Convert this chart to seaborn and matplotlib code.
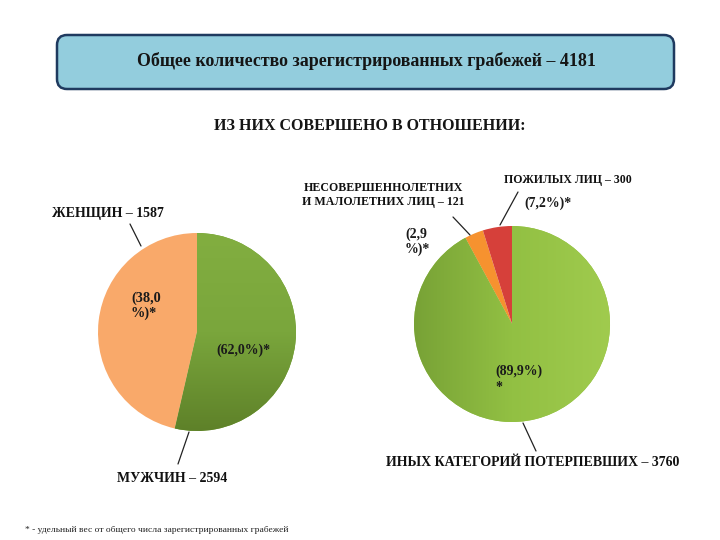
import numpy as np
import matplotlib
matplotlib.use("Agg")
import matplotlib.pyplot as plt
from matplotlib.patches import FancyBboxPatch
from matplotlib.colors import LinearSegmentedColormap
import seaborn as sns

# ---------------- data ----------------
title_text = "Общее количество зарегистрированных грабежей – 4181"
subtitle_text = "ИЗ НИХ СОВЕРШЕНО В ОТНОШЕНИИ:"

# left pie: men / women (slice shares as drawn in the picture)
left_labels = ["МУЖЧИН – 2594", "ЖЕНЩИН – 1587"]
left_pct = ["(62,0%)*", "(38,0\n%)*"]
left_shares = [53.6, 46.4]
left_colors = ["#74A236", "#F9A96A"]

# right pie: other / minors / elderly
right_labels = ["ИНЫХ КАТЕГОРИЙ ПОТЕРПЕВШИХ – 3760",
                "НЕСОВЕРШЕННОЛЕТНИХ\nИ МАЛОЛЕТНИХ ЛИЦ – 121",
                "ПОЖИЛЫХ ЛИЦ – 300"]
right_pct = ["(89,9%)\n*", "(2,9\n%)*", "(7,2%)*"]
right_shares = [92.1, 3.1, 4.8]
right_colors = ["#96C445", "#F6922F", "#D6403A"]

footnote = "* - удельный вес от общего числа зарегистрированных грабежей"

# ---------------- figure ----------------
sns.set_theme(style="white")
plt.rcParams['font.family'] = ['Liberation Serif', 'DejaVu Serif']

fig = plt.figure(figsize=(7.2, 5.4), dpi=100)
ax = fig.add_axes([0, 0, 1, 1])
W, H = 720, 540


def Y(p):
    return H - p


# title box
box = FancyBboxPatch((57, Y(89)), 617, 54,
                     boxstyle="round,pad=0,rounding_size=10",
                     facecolor="#93CDDD", edgecolor="#1F3A5F", linewidth=1.8,
                     zorder=2)
ax.add_patch(box)
ax.text(366, Y(61), title_text, ha="center", va="center",
        fontsize=12.9, fontweight="bold", color="#151515", zorder=3)
ax.text(370, Y(126), subtitle_text, ha="center", va="center",
        fontsize=11.5, fontweight="bold", color="#151515")

# ---------------- left pie ----------------
lc = (197, Y(332))
lr = 99
wl, _ = ax.pie(left_shares, colors=left_colors, startangle=90,
               counterclock=False, center=lc, radius=lr, frame=True,
               wedgeprops=dict(linewidth=0))
# gradient on the green wedge (lighter top, darker bottom)
cmap_l = LinearSegmentedColormap.from_list("lg", ["#5E8129", "#7AA63C", "#82AE40"])
grad = np.linspace(0, 1, 256).reshape(-1, 1)
im = ax.imshow(grad, cmap=cmap_l, origin="lower", aspect="auto",
               extent=(lc[0] - lr, lc[0] + lr, lc[1] - lr, lc[1] + lr), zorder=1.5)
im.set_clip_path(wl[0])

ax.text(243, Y(350), left_pct[0], ha="center", va="center",
        fontsize=10, fontweight="bold", color="#1a1a1a", zorder=4)
ax.text(131, Y(306), left_pct[1], ha="left", va="center",
        fontsize=10.3, fontweight="bold", color="#1a1a1a", linespacing=1.1, zorder=4)

ax.text(52, Y(213), left_labels[1], ha="left", va="center",
        fontsize=10, fontweight="bold", color="#111111")
ax.plot([130, 141], [Y(224), Y(246)], color="#222222", lw=0.9)
ax.text(117, Y(478), left_labels[0], ha="left", va="center",
        fontsize=10, fontweight="bold", color="#111111")
ax.plot([189, 178], [Y(432), Y(464)], color="#222222", lw=0.9)

# ---------------- right pie ----------------
rc = (512, Y(324))
rr = 98
wr, _ = ax.pie(right_shares, colors=right_colors, startangle=90,
               counterclock=False, center=rc, radius=rr, frame=True,
               wedgeprops=dict(linewidth=0))
cmap_r = LinearSegmentedColormap.from_list("rg", ["#78A236", "#92C043", "#A0CB4E"])
gradx = np.linspace(0, 1, 256).reshape(1, -1)
im2 = ax.imshow(gradx, cmap=cmap_r, origin="lower", aspect="auto",
                extent=(rc[0] - rr, rc[0] + rr, rc[1] - rr, rc[1] + rr), zorder=1.5)
im2.set_clip_path(wr[0])

ax.text(495, Y(379), right_pct[0], ha="left", va="center",
        fontsize=10, fontweight="bold", color="#1a1a1a", linespacing=1.3, zorder=4)
ax.text(405, Y(242), right_pct[1], ha="left", va="center",
        fontsize=10, fontweight="bold", color="#1a1a1a", linespacing=1.1)
ax.text(548, Y(203), right_pct[2], ha="center", va="center",
        fontsize=10, fontweight="bold", color="#1a1a1a")

ax.text(383, Y(195), right_labels[1], ha="center", va="center",
        fontsize=8.6, fontweight="bold", color="#111111", linespacing=1.15)
ax.plot([453, 470], [Y(217), Y(235)], color="#222222", lw=0.9)
ax.text(568, Y(180), right_labels[2], ha="center", va="center",
        fontsize=8.5, fontweight="bold", color="#111111")
ax.plot([518, 500], [Y(192), Y(225)], color="#222222", lw=0.9)
ax.text(533, Y(463), right_labels[0], ha="center", va="center",
        fontsize=10, fontweight="bold", color="#111111")
ax.plot([523, 536], [Y(423), Y(451)], color="#222222", lw=0.9)

ax.text(25, Y(530), footnote, ha="left", va="center",
        fontsize=6.8, color="#222222")

ax.set_xlim(0, W)
ax.set_ylim(0, H)
ax.set_aspect("equal")
ax.axis("off")

fig.savefig("out.png", dpi=100, facecolor="white")
